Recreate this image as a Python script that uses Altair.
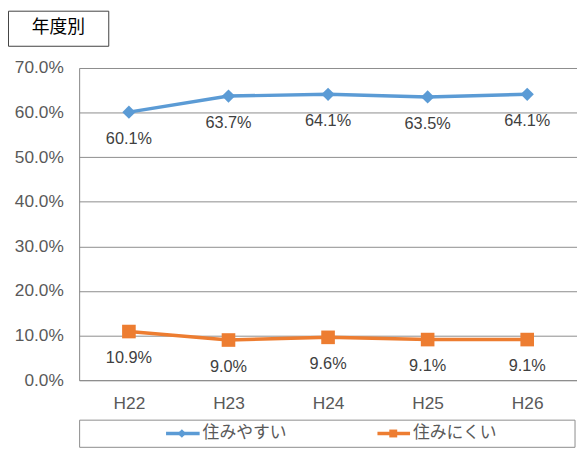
import altair as alt
import pandas as pd

years = ["H22", "H23", "H24", "H25", "H26"]
series_names = ["住みやすい", "住みにくい"]
easy = [0.601, 0.637, 0.641, 0.635, 0.641]
hard = [0.109, 0.090, 0.096, 0.091, 0.091]
y_ticks = [0.0, 0.1, 0.2, 0.3, 0.4, 0.5, 0.6, 0.7]
title_text = "年度別"
colors = ["#5B9BD5", "#ED7D31"]
shapes = ["diamond", "square"]

rows = []
for name, vals in zip(series_names, [easy, hard]):
    for yr, v in zip(years, vals):
        rows.append({"series": name, "year": yr, "value": v})
df = pd.DataFrame(rows)

LAT = "Liberation Sans"
JP = "Noto Sans CJK JP"

x_enc = alt.X("year:N", sort=years,
              scale=alt.Scale(type="point", padding=0.5),
              axis=alt.Axis(title=None, labelFont=LAT, labelFontSize=17.5, labelColor="#595959",
                            ticks=False, labelPadding=15, domainColor="#8c8c8c", grid=False,
                            labelAngle=0))
y_enc = alt.Y("value:Q", scale=alt.Scale(domain=[0, 0.7], nice=False),
              axis=alt.Axis(title=None, values=y_ticks, format=".1%", labelFont=LAT,
                            labelFontSize=17.5, labelColor="#595959", ticks=False, labelPadding=16,
                            domainColor="#8c8c8c", gridColor="#8c8c8c", grid=True))
color_enc = alt.Color("series:N", scale=alt.Scale(domain=series_names, range=colors), legend=None)

base = alt.Chart(df)
lines = base.mark_line(strokeWidth=3.5).encode(x=x_enc, y=y_enc, color=color_enc, detail="series:N")
points = base.mark_point(filled=True, opacity=1).encode(
    x=x_enc, y=y_enc, color=color_enc,
    shape=alt.Shape("series:N", scale=alt.Scale(domain=series_names, range=shapes), legend=None),
    size=alt.Size("series:N", scale=alt.Scale(domain=series_names, range=[180, 190]), legend=None),
)
labels = base.mark_text(dy=27, baseline="middle", font=LAT, fontSize=16.5, color="#404040").encode(
    x=x_enc, y=y_enc, text=alt.Text("value:Q", format=".1%"))

one = pd.DataFrame({"k": [0]})
legend_box = alt.Chart(one).mark_rect(fill="white", stroke="#8c8c8c", strokeWidth=1).encode(
    x=alt.value(0.5), x2=alt.value(502), y=alt.value(356.5), y2=alt.value(384))
title_box = alt.Chart(one).mark_rect(fill="white", stroke="#404040", strokeWidth=1).encode(
    x=alt.value(-71.5), x2=alt.value(30), y=alt.value(-57.5), y2=alt.value(-22))
title_lbl = alt.Chart(pd.DataFrame({"t": [title_text]})).mark_text(
    font=JP, fontSize=18, color="#000000", baseline="middle", align="center").encode(
    x=alt.value(-21), y=alt.value(-40), text="t:N")

leg_layers = []
leg_pos = [(88, 122, 104, 125), (302, 335, 318, 338)]
for name, col, shp, (x1, x2, xm, xt) in zip(series_names, colors, shapes, leg_pos):
    d = pd.DataFrame({"series": [name]})
    leg_layers.append(alt.Chart(d).mark_rule(color=col, strokeWidth=3.5).encode(
        x=alt.value(x1), x2=alt.value(x2), y=alt.value(370)))
    leg_layers.append(alt.Chart(d).mark_point(filled=True, opacity=1, color=col, shape=shp,
                                              size=75 if shp == "diamond" else 64).encode(
        x=alt.value(xm), y=alt.value(370)))
    leg_layers.append(alt.Chart(d).mark_text(font=JP, fontSize=17, color="#595959",
                                             align="left", baseline="middle").encode(
        x=alt.value(xt), y=alt.value(370), text="series:N"))

chart = alt.layer(legend_box, title_box, title_lbl, lines, points, labels, *leg_layers).properties(
    width=504, height=316,
    autosize=alt.AutoSizeParams(type="none"),
    padding={"left": 72, "top": 58, "right": 0, "bottom": 70},
).configure_view(stroke=None).configure(background="white")

chart.save("out.html", embed_options={"renderer": "svg", "actions": False})
